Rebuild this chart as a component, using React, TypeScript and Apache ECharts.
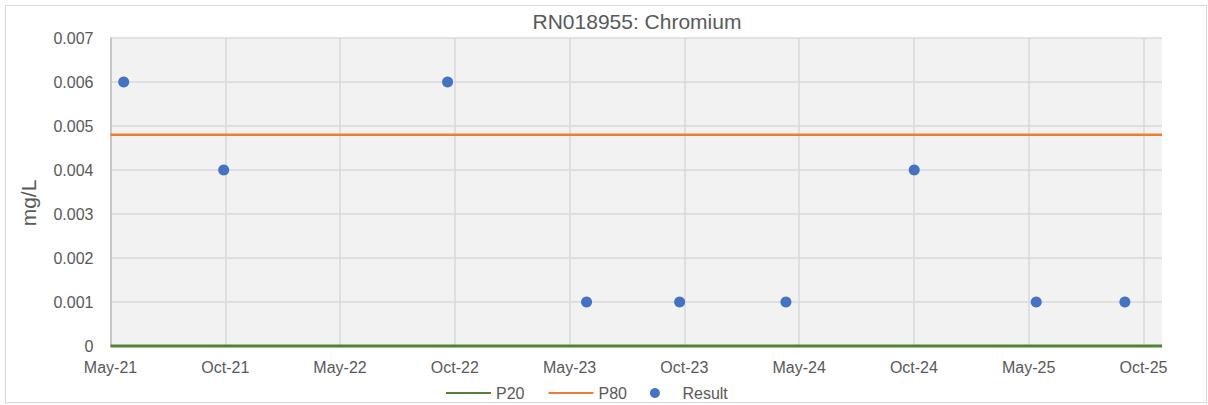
import React, { useEffect, useRef } from "react";
import * as echarts from "echarts";

const axisStart = "2021-05-02";
const axisEnd = "2025-11-29";
const tickDays = 182.5;

const resultDates = [
  "2021-05-23",
  "2021-10-29",
  "2022-10-20",
  "2023-05-29",
  "2023-10-24",
  "2024-04-10",
  "2024-10-31",
  "2025-05-13",
  "2025-10-01",
];
const resultValues = [0.006, 0.004, 0.006, 0.001, 0.001, 0.001, 0.004, 0.001, 0.001];

const p20Value = 0;
const p80Value = 0.0048;

const yMax = 0.007;
const yStep = 0.001;

const MONTHS = ["Jan", "Feb", "Mar", "Apr", "May", "Jun", "Jul", "Aug", "Sep", "Oct", "Nov", "Dec"];
const DAY = 86400000;

function toMs(s: string): number {
  const [y, m, d] = s.split("-").map(Number);
  return Date.UTC(y, m - 1, d);
}
const baseMs = toMs(axisStart);
function toOffset(s: string): number {
  return (toMs(s) - baseMs) / DAY;
}
function fmt(offset: number): string {
  const dt = new Date(baseMs + Math.floor(offset) * DAY);
  return MONTHS[dt.getUTCMonth()] + "-" + String(dt.getUTCFullYear() % 100).padStart(2, "0");
}

export default function App() {
  const ref = useRef<HTMLDivElement>(null);
  useEffect(() => {
    if (!ref.current) return;
    const chart = echarts.init(ref.current, undefined, { renderer: "svg" });
    const xMax = toOffset(axisEnd);
    const font = "'Liberation Sans', Arial, sans-serif";
    const textColor = "#595959";
    chart.setOption({
      animation: false,
      textStyle: { fontFamily: font },
      title: {
        text: "RN018955: Chromium",
        left: 637,
        textAlign: "center",
        top: 11,
        padding: 0,
        textStyle: { fontFamily: font, fontSize: 21, fontWeight: "normal", color: textColor },
      },
      graphic: [
        {
          type: "rect",
          shape: { x: 5.5, y: 5.5, width: 1201, height: 397 },
          style: { fill: "none", stroke: "#D9D9D9", lineWidth: 1 },
          silent: true,
        },
        {
          type: "text",
          x: 28,
          y: 203,
          rotation: Math.PI / 2,
          style: {
            text: "mg/L",
            fontFamily: font,
            fontSize: 21,
            fill: textColor,
            align: "center",
            verticalAlign: "middle",
          },
        },
      ],
      grid: {
        left: 110.5,
        top: 38,
        right: 46,
        bottom: 59,
        show: true,
        backgroundColor: "#F2F2F2",
        borderWidth: 0,
      },
      legend: {
        left: 445,
        top: 385,
        padding: 0,
        itemWidth: 45,
        itemHeight: 10,
        itemGap: 23,
        textStyle: { fontFamily: font, fontSize: 16, color: textColor, padding: [0, 0, 0, 0] },
        data: [
          { name: "P20", itemStyle: { opacity: 0 } },
          { name: "P80", itemStyle: { opacity: 0 } },
          { name: "Result", icon: "circle" },
        ],
      },
      xAxis: {
        type: "value",
        min: 0,
        max: xMax,
        interval: tickDays,
        axisLine: { show: true, lineStyle: { color: "#D9D9D9" } },
        axisTick: { show: false },
        axisLabel: {
          fontFamily: font,
          fontSize: 16,
          color: textColor,
          margin: 13,
          showMaxLabel: false,
          formatter: (v: number) => fmt(v),
        },
        splitLine: {
          show: true,
          showMaxLine: false,
          lineStyle: { color: "#D9D9D9", width: 1.5 },
        },
      },
      yAxis: {
        type: "value",
        min: 0,
        max: yMax,
        interval: yStep,
        axisLine: { show: true, lineStyle: { color: "#BFBFBF", width: 1.5 } },
        axisTick: { show: false },
        axisLabel: {
          fontFamily: font,
          fontSize: 16,
          color: textColor,
          margin: 17,
          formatter: (v: number) => (v === 0 ? "0" : v.toFixed(3)),
        },
        splitLine: { show: true, lineStyle: { color: "#D9D9D9", width: 1.5 } },
      },
      series: [
        {
          name: "P20",
          type: "line",
          symbol: "none",
          clip: false,
          color: "#548235",
          lineStyle: { color: "#548235", width: 3 },
          data: [
            [0, p20Value],
            [xMax, p20Value],
          ],
          z: 3,
        },
        {
          name: "P80",
          type: "line",
          symbol: "none",
          clip: false,
          color: "#ED7D31",
          lineStyle: { color: "#ED7D31", width: 2.5 },
          data: [
            [0, p80Value],
            [xMax, p80Value],
          ],
          z: 3,
        },
        {
          name: "Result",
          type: "scatter",
          symbol: "circle",
          symbolSize: 11,
          color: "#4472C4",
          itemStyle: { color: "#4472C4", opacity: 1 },
          data: resultDates.map((d, i) => [toOffset(d), resultValues[i]]),
          z: 4,
        },
      ],
    });
    return () => chart.dispose();
  }, []);
  return (
    <div
      ref={ref}
      style={{ position: "fixed", left: 0, top: 0, width: 1208, height: 405, background: "#fff" }}
    />
  );
}
